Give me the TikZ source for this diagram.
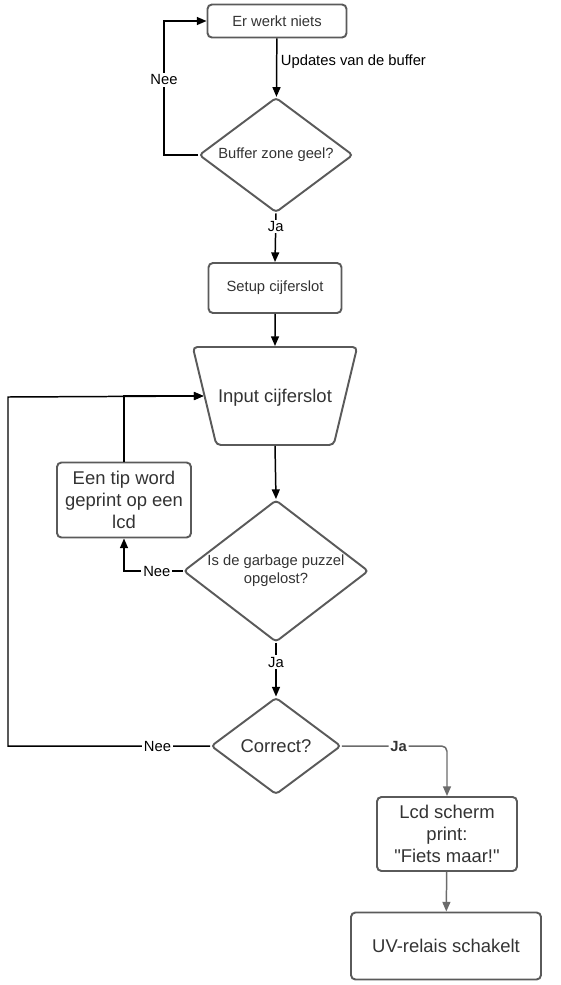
\documentclass[tikz,border=0pt]{standalone}
\usepackage{fontspec}
\setmainfont{Liberation Sans}
\usetikzlibrary{shapes.geometric,arrows.meta}
\definecolor{rand}{HTML}{5A5A5A}
\definecolor{tekst}{HTML}{333333}
\definecolor{grijs}{HTML}{6B6B6B}
\newcommand\klein{\fontsize{8.4}{10.2}\selectfont}
\newcommand\groot{\fontsize{10.5}{12.4}\selectfont}

\begin{document}
\begin{tikzpicture}[x=0.02cm, y=-0.02cm, >={Triangle[length=5.5pt,width=4.5pt]},
      blok/.style={rectangle, rounded corners=2.5pt, draw=rand, line width=1.1pt, text=tekst, align=center, font=\klein},
      keuze/.style={diamond, rounded corners=2pt, draw=rand, line width=1.1pt, text=tekst, align=center, inner sep=0pt, font=\klein},
      invoer/.style={trapezium, shape border rotate=180, trapezium left angle=76.5, trapezium right angle=76.5, inner xsep=1pt, inner ysep=0pt, rounded corners=2.5pt, draw=rand, line width=1.1pt, text=tekst, font=\groot},
      lab/.style={fill=white, inner sep=1pt, font=\klein}]
            \useasboundingbox (0,0) rectangle (561,985);
            \node[blok, minimum width=2.78cm, minimum height=0.66cm] (1) at (277, 21) {Er werkt niets};
            \node[keuze, aspect=1.34, minimum width=3.08cm, minimum height=2.3cm] (2) at (276, 155) {Buffer zone geel?};
            \node[blok, minimum width=2.66cm, minimum height=1cm] (3) at (275, 288) {Setup cijferslot};
            \node[invoer, text height=1.115cm, text depth=0.845cm] (4) at (275, 396) {Input cijferslot};
            \node[keuze, aspect=1.3, minimum width=3.7cm, minimum height=2.84cm] (5) at (276, 571) {Is de garbage puzzel\\opgelost?};
            \node[blok, font=\groot, minimum width=2.68cm, minimum height=1.5cm] (6) at (124, 500) {Een tip word\\geprint op een\\lcd};
            \node[keuze, font=\groot, aspect=1.34, minimum width=2.6cm, minimum height=1.94cm] (7) at (276, 746) {Correct?};
            \node[blok, font=\groot, minimum width=2.8cm, minimum height=1.48cm] (8) at (447, 834) {Lcd scherm\\print:\\\textquotedbl Fiets maar!\textquotedbl};
            \node[blok, font=\groot, minimum width=3.8cm, minimum height=1.34cm] (9) at (446, 946) {UV-relais schakelt};
            \coordinate (k1) at (164, 155);
            \coordinate (k2) at (8, 397);
            \draw[->, line width=0.85pt] (1) -- node[right, pos=0.4, font=\klein, inner sep=2pt] {Updates van de buffer} (2);
            \draw[->, line width=0.85pt] (2.west) -- (k1) |- node[lab, pos=0.28] {Nee} (1.west);
            \draw[->, line width=0.85pt] (2.south) -- node[lab, pos=0.27] {Ja} (3.north);
            \draw[->, line width=0.85pt] (3) -- (4);
            \draw[->, line width=0.85pt] (4.south) -- (5.north);
            \draw[->, line width=0.85pt] (5.west) -| node[lab, pos=0.22] {Nee} (6.south);
            \draw[->, line width=0.85pt] (6.north) |- (4.180);
            \draw[->, line width=0.85pt] (7.west) -| node[lab, pos=0.13] {Nee} (k2) -- (4.180);
            \draw[->, line width=0.85pt] (5.south) -- node[lab, pos=0.36] {Ja} (7.north);
            \draw[->, line width=0.85pt, draw=grijs, rounded corners=3pt] (7.east) -| node[lab, pos=0.27, text=tekst] {\textbf{Ja}} (8.north);
            \draw[->, line width=0.85pt, draw=grijs] (8) -- (9);
\end{tikzpicture}
\end{document}
